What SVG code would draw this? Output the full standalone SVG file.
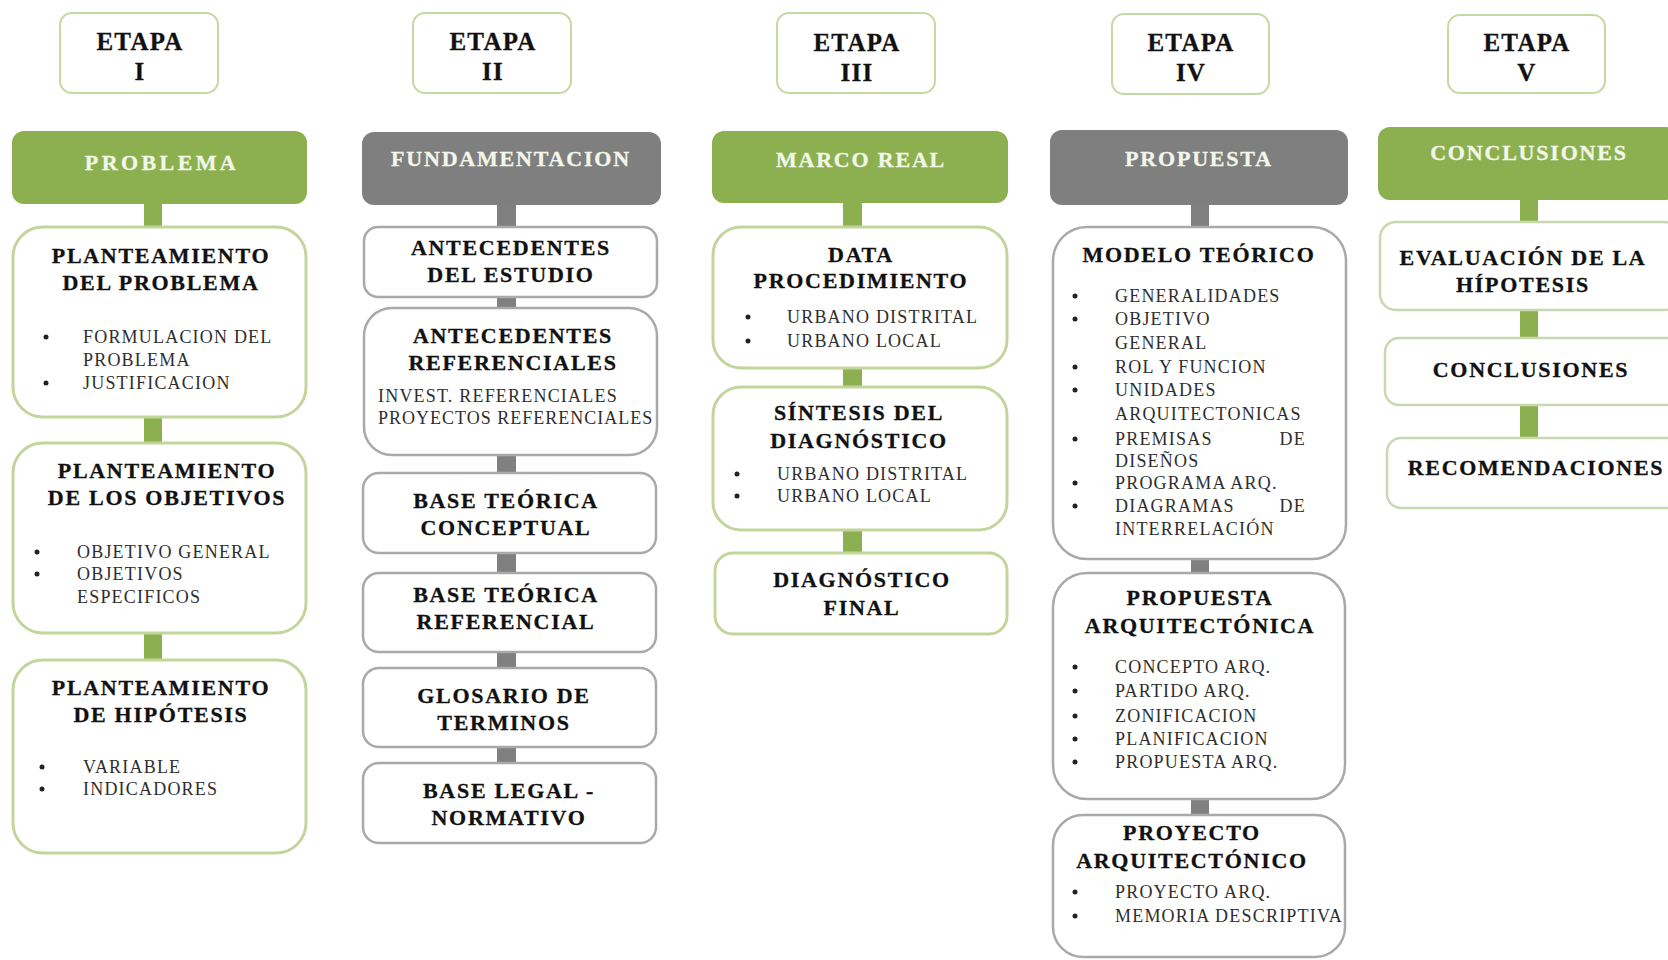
<svg xmlns="http://www.w3.org/2000/svg" width="1668" height="960" viewBox="0 0 1668 960">
<style>
.bg{fill:#ffffff}
.et{fill:#fff;stroke:#c6d9a2;stroke-width:2}
.hg{fill:#8cb050}
.hk{fill:#7f7f7f}
.bg3{fill:#fff;stroke:#c2d69b;stroke-width:3}
.bk3{fill:#fff;stroke:#a9a9a9;stroke-width:2.5}
.bv{fill:#fff;stroke:#c9d8b0;stroke-width:2.5}
.cg{fill:#8cb050}
.ck{fill:#808080}
text{font-family:"Liberation Serif","Times New Roman",serif}
.tet{font-size:25px;font-weight:bold;letter-spacing:1.2px;text-anchor:middle;fill:#111;stroke:#111;stroke-width:0.3}
.thd{font-size:22px;font-weight:bold;letter-spacing:1.8px;text-anchor:middle;fill:#f3f7ea;stroke:#f3f7ea;stroke-width:0.3}
.tti{font-size:22px;font-weight:bold;letter-spacing:1.7px;text-anchor:middle;fill:#111;stroke:#111;stroke-width:0.3}
.tit{font-size:18px;letter-spacing:1.2px;fill:#2e2e2e}
.end{text-anchor:end}
.dot{fill:#222}
</style>
<rect class="bg" x="0" y="0" width="1668" height="960"/>

<g id="connectors">
<rect class="cg" x="144" y="202" width="18" height="27"/>
<rect class="cg" x="144" y="415" width="18" height="30"/>
<rect class="cg" x="144" y="631" width="18" height="31"/>
<rect class="ck" x="497" y="203" width="19" height="26"/>
<rect class="ck" x="497" y="295" width="19" height="15"/>
<rect class="ck" x="497" y="453" width="19" height="22"/>
<rect class="ck" x="497" y="551" width="19" height="24"/>
<rect class="ck" x="497" y="650" width="19" height="20"/>
<rect class="ck" x="497" y="745" width="19" height="20"/>
<rect class="cg" x="843" y="201" width="19" height="28"/>
<rect class="cg" x="843" y="366" width="19" height="23"/>
<rect class="cg" x="843" y="528" width="19" height="27"/>
<rect class="ck" x="1191" y="203" width="18" height="26"/>
<rect class="ck" x="1191" y="557" width="18" height="18"/>
<rect class="ck" x="1191" y="797" width="18" height="20"/>
<rect class="cg" x="1520" y="198" width="18" height="26"/>
<rect class="cg" x="1520" y="308" width="18" height="32"/>
<rect class="cg" x="1520" y="403" width="18" height="37"/>
</g>

<!-- Column I -->
<g id="etapa1">
<rect class="et" x="60" y="13" width="158" height="80" rx="12"/>
<text class="tet" x="140" y="50">ETAPA</text>
<text class="tet" x="140" y="80">I</text>
</g>
<g id="problema">
<rect class="hg" x="12" y="131" width="295" height="73" rx="12"/>
<text class="thd" x="162" y="170" style="letter-spacing:3.4px">PROBLEMA</text>
</g>
<g id="plant-problema">
<rect class="bg3" x="13" y="227" width="293" height="190" rx="30"/>
<text class="tti" x="161" y="263">PLANTEAMIENTO</text>
<text class="tti" x="161" y="290">DEL PROBLEMA</text>
<circle class="dot" cx="46" cy="337" r="2.5"/>
<text class="tit" x="83" y="343">FORMULACION DEL</text>
<text class="tit" x="83" y="366">PROBLEMA</text>
<circle class="dot" cx="46" cy="383" r="2.5"/>
<text class="tit" x="83" y="389">JUSTIFICACION</text>
</g>
<g id="plant-objetivos">
<rect class="bg3" x="13" y="443" width="293" height="190" rx="30"/>
<text class="tti" x="167" y="478">PLANTEAMIENTO</text>
<text class="tti" x="167" y="505">DE LOS OBJETIVOS</text>
<circle class="dot" cx="37" cy="552" r="2.5"/>
<text class="tit" x="77" y="558">OBJETIVO GENERAL</text>
<circle class="dot" cx="37" cy="574" r="2.5"/>
<text class="tit" x="77" y="580">OBJETIVOS</text>
<text class="tit" x="77" y="603">ESPECIFICOS</text>
</g>
<g id="plant-hipotesis">
<rect class="bg3" x="13" y="660" width="293" height="193" rx="30"/>
<text class="tti" x="161" y="695">PLANTEAMIENTO</text>
<text class="tti" x="161" y="722">DE HIPÓTESIS</text>
<circle class="dot" cx="42" cy="767" r="2.5"/>
<text class="tit" x="83" y="773">VARIABLE</text>
<circle class="dot" cx="42" cy="789" r="2.5"/>
<text class="tit" x="83" y="795">INDICADORES</text>
</g>

<!-- Column II -->
<g id="etapa2">
<rect class="et" x="413" y="13" width="158" height="80" rx="12"/>
<text class="tet" x="493" y="50">ETAPA</text>
<text class="tet" x="493" y="80">II</text>
</g>
<g id="fundamentacion">
<rect class="hk" x="362" y="132" width="299" height="73" rx="12"/>
<text class="thd" x="511" y="166">FUNDAMENTACION</text>
</g>
<g id="antecedentes-estudio">
<rect class="bk3" x="364" y="227" width="293" height="70" rx="14"/>
<text class="tti" x="511" y="255">ANTECEDENTES</text>
<text class="tti" x="511" y="282">DEL ESTUDIO</text>
</g>
<g id="antecedentes-ref">
<rect class="bk3" x="364" y="308" width="293" height="147" rx="28"/>
<text class="tti" x="513" y="343">ANTECEDENTES</text>
<text class="tti" x="513" y="370">REFERENCIALES</text>
<text class="tit" x="378" y="402">INVEST. REFERENCIALES</text>
<text class="tit" x="378" y="424" style="letter-spacing:1px">PROYECTOS REFERENCIALES</text>
</g>
<g id="base-conceptual">
<rect class="bk3" x="363" y="473" width="293" height="80" rx="16"/>
<text class="tti" x="506" y="508">BASE TEÓRICA</text>
<text class="tti" x="506" y="535">CONCEPTUAL</text>
</g>
<g id="base-referencial">
<rect class="bk3" x="363" y="573" width="293" height="79" rx="16"/>
<text class="tti" x="506" y="602">BASE TEÓRICA</text>
<text class="tti" x="506" y="629">REFERENCIAL</text>
</g>
<g id="glosario">
<rect class="bk3" x="363" y="668" width="293" height="79" rx="16"/>
<text class="tti" x="504" y="703">GLOSARIO DE</text>
<text class="tti" x="504" y="730">TERMINOS</text>
</g>
<g id="base-legal">
<rect class="bk3" x="363" y="763" width="293" height="80" rx="16"/>
<text class="tti" x="509" y="798">BASE LEGAL -</text>
<text class="tti" x="509" y="825">NORMATIVO</text>
</g>

<!-- Column III -->
<g id="etapa3">
<rect class="et" x="777" y="13" width="158" height="80" rx="12"/>
<text class="tet" x="857" y="51">ETAPA</text>
<text class="tet" x="857" y="81">III</text>
</g>
<g id="marco-real">
<rect class="hg" x="712" y="131" width="296" height="72" rx="12"/>
<text class="thd" x="861" y="167">MARCO REAL</text>
</g>
<g id="data-procedimiento">
<rect class="bg3" x="713" y="227" width="294" height="141" rx="28"/>
<text class="tti" x="861" y="262">DATA</text>
<text class="tti" x="861" y="288">PROCEDIMIENTO</text>
<circle class="dot" cx="748" cy="317" r="2.5"/>
<text class="tit" x="787" y="323">URBANO DISTRITAL</text>
<circle class="dot" cx="748" cy="341" r="2.5"/>
<text class="tit" x="787" y="347">URBANO LOCAL</text>
</g>
<g id="sintesis">
<rect class="bg3" x="713" y="387" width="294" height="143" rx="28"/>
<text class="tti" x="859" y="420">SÍNTESIS DEL</text>
<text class="tti" x="859" y="448">DIAGNÓSTICO</text>
<circle class="dot" cx="737" cy="474" r="2.5"/>
<text class="tit" x="777" y="480">URBANO DISTRITAL</text>
<circle class="dot" cx="737" cy="496" r="2.5"/>
<text class="tit" x="777" y="502">URBANO LOCAL</text>
</g>
<g id="diagnostico-final">
<rect class="bg3" x="715" y="553" width="292" height="81" rx="18"/>
<text class="tti" x="862" y="587">DIAGNÓSTICO</text>
<text class="tti" x="862" y="615">FINAL</text>
</g>

<!-- Column IV -->
<g id="etapa4">
<rect class="et" x="1112" y="14" width="157" height="80" rx="12"/>
<text class="tet" x="1191" y="51">ETAPA</text>
<text class="tet" x="1191" y="81">IV</text>
</g>
<g id="propuesta">
<rect class="hk" x="1050" y="130" width="298" height="75" rx="12"/>
<text class="thd" x="1199" y="166">PROPUESTA</text>
</g>
<g id="modelo-teorico">
<rect class="bk3" x="1053" y="227" width="293" height="332" rx="34"/>
<text class="tti" x="1199" y="262">MODELO TEÓRICO</text>
<circle class="dot" cx="1075" cy="296" r="2.5"/>
<text class="tit" x="1115" y="302">GENERALIDADES</text>
<circle class="dot" cx="1075" cy="319" r="2.5"/>
<text class="tit" x="1115" y="325">OBJETIVO</text>
<text class="tit" x="1115" y="349">GENERAL</text>
<circle class="dot" cx="1075" cy="367" r="2.5"/>
<text class="tit" x="1115" y="373">ROL Y FUNCION</text>
<circle class="dot" cx="1075" cy="390" r="2.5"/>
<text class="tit" x="1115" y="396">UNIDADES</text>
<text class="tit" x="1115" y="420">ARQUITECTONICAS</text>
<circle class="dot" cx="1075" cy="439" r="2.5"/>
<text class="tit" x="1115" y="445">PREMISAS</text>
<text class="tit end" x="1306" y="445">DE</text>
<text class="tit" x="1115" y="467">DISEÑOS</text>
<circle class="dot" cx="1075" cy="483" r="2.5"/>
<text class="tit" x="1115" y="489">PROGRAMA ARQ.</text>
<circle class="dot" cx="1075" cy="506" r="2.5"/>
<text class="tit" x="1115" y="512">DIAGRAMAS</text>
<text class="tit end" x="1306" y="512">DE</text>
<text class="tit" x="1115" y="535">INTERRELACIÓN</text>
</g>
<g id="propuesta-arq">
<rect class="bk3" x="1053" y="573" width="292" height="226" rx="34"/>
<text class="tti" x="1200" y="605">PROPUESTA</text>
<text class="tti" x="1200" y="633">ARQUITECTÓNICA</text>
<circle class="dot" cx="1075" cy="667" r="2.5"/>
<text class="tit" x="1115" y="673">CONCEPTO ARQ.</text>
<circle class="dot" cx="1075" cy="691" r="2.5"/>
<text class="tit" x="1115" y="697">PARTIDO ARQ.</text>
<circle class="dot" cx="1075" cy="716" r="2.5"/>
<text class="tit" x="1115" y="722">ZONIFICACION</text>
<circle class="dot" cx="1075" cy="739" r="2.5"/>
<text class="tit" x="1115" y="745">PLANIFICACION</text>
<circle class="dot" cx="1075" cy="762" r="2.5"/>
<text class="tit" x="1115" y="768">PROPUESTA ARQ.</text>
</g>
<g id="proyecto-arq">
<rect class="bk3" x="1053" y="815" width="292" height="142" rx="30"/>
<text class="tti" x="1192" y="840">PROYECTO</text>
<text class="tti" x="1192" y="868">ARQUITECTÓNICO</text>
<circle class="dot" cx="1075" cy="892" r="2.5"/>
<text class="tit" x="1115" y="898">PROYECTO ARQ.</text>
<circle class="dot" cx="1075" cy="916" r="2.5"/>
<text class="tit" x="1115" y="922">MEMORIA DESCRIPTIVA</text>
</g>

<!-- Column V -->
<g id="etapa5">
<rect class="et" x="1448" y="15" width="157" height="78" rx="12"/>
<text class="tet" x="1527" y="51">ETAPA</text>
<text class="tet" x="1527" y="81">V</text>
</g>
<g id="conclusiones-hdr">
<rect class="hg" x="1378" y="127" width="300" height="73" rx="12"/>
<text class="thd" x="1529" y="160">CONCLUSIONES</text>
</g>
<g id="evaluacion">
<rect class="bv" x="1380" y="222" width="300" height="88" rx="16"/>
<text class="tti" x="1523" y="265">EVALUACIÓN DE LA</text>
<text class="tti" x="1523" y="292">HÍPOTESIS</text>
</g>
<g id="conclusiones">
<rect class="bv" x="1385" y="338" width="300" height="67" rx="14"/>
<text class="tti" x="1531" y="377">CONCLUSIONES</text>
</g>
<g id="recomendaciones">
<rect class="bv" x="1387" y="438" width="300" height="70" rx="14"/>
<text class="tti" x="1536" y="475">RECOMENDACIONES</text>
</g>
</svg>
